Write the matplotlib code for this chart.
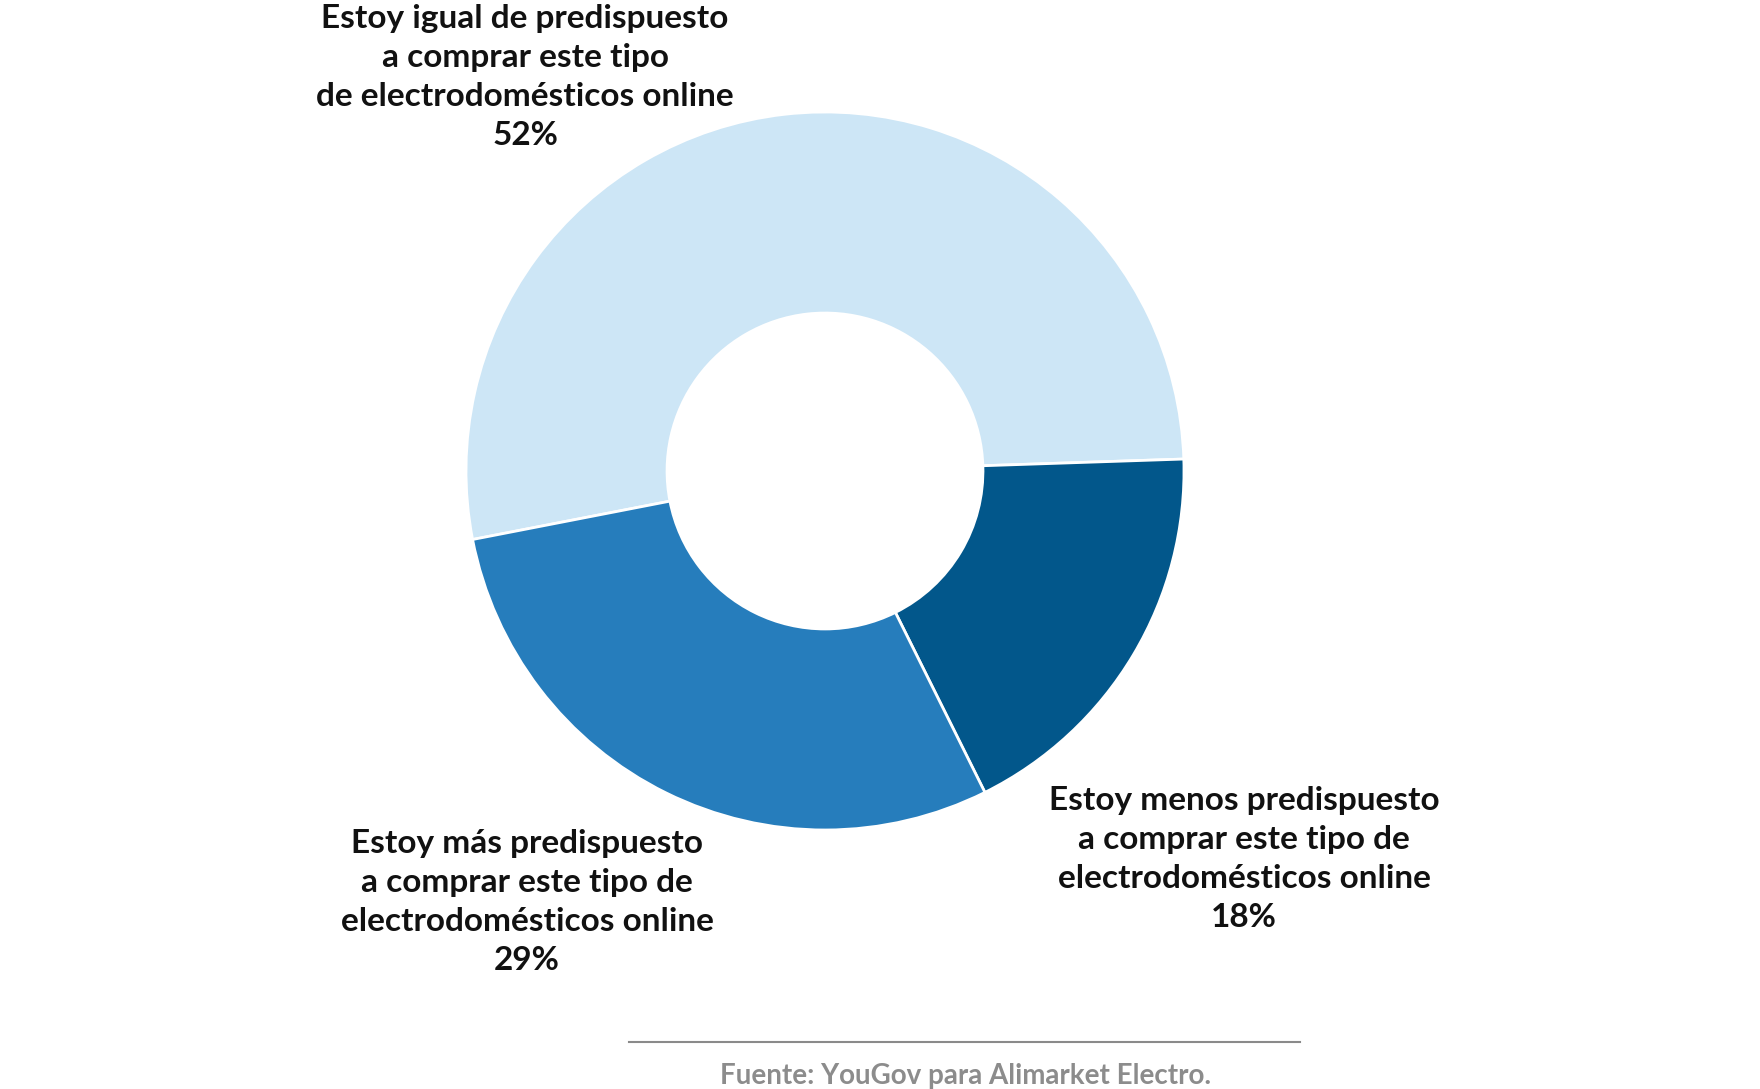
import matplotlib.pyplot as plt
from matplotlib.lines import Line2D

plt.rcParams['font.family'] = ['Lato', 'DejaVu Sans']

# datos
etiquetas = [
    'Estoy igual de predispuesto\na comprar este tipo\nde electrodomésticos online',
    'Estoy menos predispuesto\na comprar este tipo de\nelectrodomésticos online',
    'Estoy más predispuesto\na comprar este tipo de\nelectrodomésticos online',
]
valores = [52, 18, 29]
colores = ['#cde6f6', '#02578b', '#267dbc']
fuente = 'Fuente: YouGov para Alimarket Electro.'

W, H = 1760, 1089
fig = plt.figure(figsize=(W / 100, H / 100), dpi=100)
ax = fig.add_axes([0, 0, 1, 1])

cx, cy, r = 825, H - 471, 359
ax.pie(valores, colors=colores, startangle=191, counterclock=False,
       center=(cx, cy), radius=r,
       wedgeprops=dict(width=r * 0.56, edgecolor='white', linewidth=2))
ax.set_xlim(0, W)
ax.set_ylim(0, H)
ax.set_aspect('equal')
ax.axis('off')

# posiciones de las etiquetas (px)
pos_etiquetas = [(525, 77), (1244, 859), (527, 902)]
for txt, v, (x, y) in zip(etiquetas, valores, pos_etiquetas):
    ax.text(x, H - y, f'{txt}\n{v}%', ha='center', va='center',
            fontsize=24, fontweight='bold', color='#111111', linespacing=1.43)

# fuente
ax.add_line(Line2D([629, 1300], [H - 1042, H - 1042], color='#8a8a8a', linewidth=1.5))
ax.text(966, H - 1076, fuente, ha='center', va='center', fontsize=20,
        fontweight='bold', color='#8c8c8c')

fig.savefig('out.png', dpi=100)
